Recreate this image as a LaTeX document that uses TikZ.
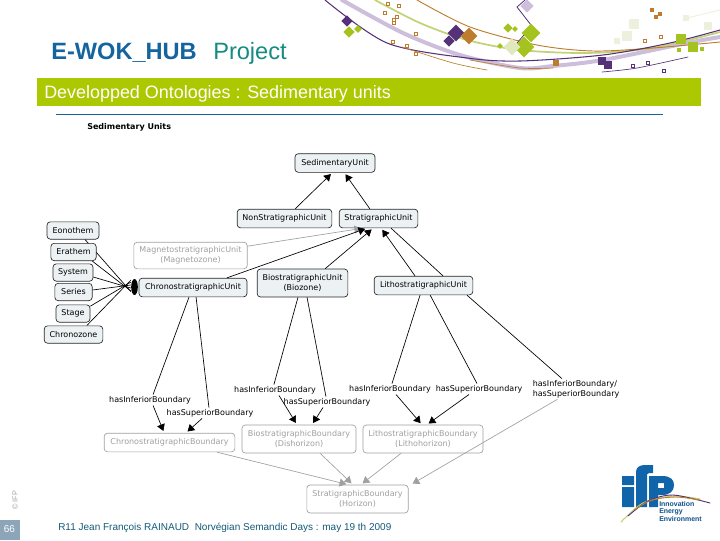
\documentclass[tikz,border=0pt]{standalone}
\usepackage{fontspec}
\setmainfont{Liberation Sans}
\newfontfamily\diafont{DejaVu Sans}
\usetikzlibrary{arrows.meta,shapes.geometric,backgrounds}
\definecolor{bannergreen}{RGB}{172,200,0}
\definecolor{titleblue}{RGB}{20,100,160}
\definecolor{titleteal}{RGB}{20,140,130}
\definecolor{footteal}{RGB}{20,90,120}
\definecolor{pageblue}{RGB}{140,165,185}
\definecolor{unitfill}{RGB}{236,241,244}
\definecolor{fadegray}{RGB}{160,160,160}
\definecolor{swpurple}{RGB}{85,50,120}
\definecolor{swlilac}{RGB}{205,190,220}
\definecolor{swolive}{RGB}{195,210,120}
\definecolor{sworange}{RGB}{190,125,45}
\definecolor{swgreen}{RGB}{165,195,30}
\definecolor{swpale}{RGB}{225,232,190}
\definecolor{swfaint}{RGB}{238,240,222}
\definecolor{logoblue}{RGB}{15,100,170}
\begin{document}
\begin{tikzpicture}[
  x=0.75pt,
  y=-0.75pt,
  unit/.style={draw=black!85, fill=unitfill, rounded corners=2.5pt, line width=0.5pt, inner sep=0pt, align=center, font=\diafont\fontsize{6}{7.3}\selectfont},
  fade/.style={unit, draw=fadegray, fill=white, text=fadegray},
  role/.style={inner sep=1pt, align=left, font=\diafont\fontsize{6}{7.3}\selectfont},
  link/.style={line width=0.5pt, black},
  isa/.style={link, -{Triangle[length=5pt,width=6pt]}, shorten >=1.5pt},
  isafade/.style={isa, draw=fadegray, -{Triangle[length=5pt,width=6pt,fill=fadegray]}},
  gem/.style={rotate=45, minimum size=#1, inner sep=0pt},
  wave/.style={line cap=round}
]
\useasboundingbox (0,0) rectangle (720,540);

% swooshes
\draw[wave, swlilac, line width=3pt] plot[smooth] coordinates {(342,0) (403,33) (460,55) (520,68) (553,66) (603,60) (687,43) (720,37)};
\draw[wave, swolive, line width=1.3pt] plot[smooth] coordinates {(375,0) (420,23) (467,40) (520,50) (587,53) (653,48) (720,32)};
\draw[wave, sworange, line width=0.7pt] plot[smooth] coordinates {(417,0) (470,27) (537,45) (593,51) (653,48) (720,42)};
\draw[wave, swpurple, line width=0.8pt] plot[smooth] coordinates {(325,0) (387,43) (467,58) (520,61) (603,55) (670,43) (720,30)};
\draw[wave, sworange, line width=0.5pt] plot[smooth] coordinates {(402,47) (453,63) (487,70)};
\draw[wave, sworange, line width=0.5pt] plot[smooth] coordinates {(470,60) (520,68) (553,68)};
\draw[wave, swpurple, line width=0.5pt] plot[smooth] coordinates {(602,72) (637,68) (688,57)};
\draw[wave, swpurple, line width=0.6pt] (525,0) -- (517,7) -- (531,25) -- (530,28) -- (517,43);
\draw[wave, swfaint, line width=0.7pt] (687,18) -- (720,10);

% diamonds
\foreach \cx/\cy/\sz/\col in {527/6/7/swlilac, 347/21/6/swpurple, 349/32/6/swgreen, 358/29/4/swgreen,
    456/33/9/swpurple, 449/41/6/swpurple, 469/36/9/sworange, 531/33/10/swgreen, 524/47/11/swgreen,
    512/47/9/swpale, 508/28/5/swgreen, 515/29/3/swgreen, 500/46/3/swgreen} {
  \node[gem=\sz pt, fill=\col] at (\cx,\cy) {};
}
\foreach \cx/\cy/\sz/\col in {556/63/4.5/sworange, 602/61/6/swpurple, 608/65/6/swpurple, 681/39/8/swgreen, 693/47/8/swgreen,
    679/50/3/swgreen, 702/49/3/swgreen, 652/10/3/sworange, 660/14/3/sworange, 656/17/3/sworange,
    634/24/7/swfaint, 627/36/7/swfaint, 617/41/5/swfaint, 708/26/6/swfaint, 686/18/4/swfaint} {
  \node[minimum size=\sz pt, inner sep=0pt, fill=\col] at (\cx,\cy) {};
}
\foreach \cx/\cy in {388/4, 399/6, 385/13, 397/17, 394/20, 394/23, 416/34, 393/42, 407/46, 416/54, 645/41, 661/37} {
  \node[minimum size=2.2pt, inner sep=0pt, draw=sworange, line width=0.4pt] at (\cx,\cy) {};
}
\foreach \cx/\cy in {633/66, 648/63, 664/71} {
  \node[minimum size=2.2pt, inner sep=0pt, draw=swpurple, line width=0.4pt] at (\cx,\cy) {};
}

% heading
\node[anchor=base west, inner sep=0pt, text=titleblue, font=\fontsize{17.7}{20}\selectfont\bfseries] (mainTitle) at (51,59) {E-WOK\_HUB};
\node[anchor=base west, inner sep=0pt, text=titleteal, font=\fontsize{17.7}{20}\selectfont] (subTitle) at (213,59) {Project};
\fill[bannergreen] (37,78) rectangle (701,106);
\node[anchor=base west, inner sep=0pt, text=white, font=\fontsize{13.45}{15}\selectfont] (bannerText) at (44,98) {Developped Ontologies : Sedimentary units};
\draw[titleblue, line width=0.6pt] (56,114) -- (663,114);
\node[anchor=base west, inner sep=0pt, font=\diafont\fontsize{6}{7}\selectfont\bfseries] (figTitle) at (87,129) {Sedimentary Units};

% upper classes
\node[unit, minimum width=60pt, minimum height=14pt] (sedU) at (335,163) {SedimentaryUnit};
\node[unit, minimum width=71pt, minimum height=14pt] (nonU) at (284.5,218.5) {NonStratigraphicUnit};
\node[unit, minimum width=59pt, minimum height=14pt] (strU) at (378.5,218.5) {StratigraphicUnit};
\node[fade, minimum width=85pt, minimum height=20pt] (magU) at (190.5,255.5) {MagnetostratigraphicUnit\\(Magnetozone)};
\node[unit, minimum width=81pt, minimum height=14pt] (chrU) at (193,287.5) {ChronostratigraphicUnit};
\node[unit, minimum width=68pt, minimum height=21pt] (bioU) at (302.5,283) {BiostratigraphicUnit\\(Biozone)};
\node[unit, minimum width=74pt, minimum height=14pt] (litU) at (423.5,285.5) {LithostratigraphicUnit};

% chrono ranks
\foreach \nam/\txt/\cx/\cy/\bw in {eonU/Eonothem/73/230.5/39, eraU/Erathem/73.5/252/34, sysU/System/73/272.5/30,
    serU/Series/73.5/292/28, staU/Stage/73/313.5/25.5, zonU/Chronozone/73.5/334.5/44} {
  \node[unit, minimum width=\bw pt, minimum height=13pt] (\nam) at (\cx,\cy) {\txt};
}
\node[ellipse, fill=black, minimum width=5pt, minimum height=12pt, inner sep=0pt] (disjoint) at (134.5,287) {};

% boundaries
\node[fade, minimum width=98pt, minimum height=14pt] (chrB) at (169.5,442.5) {ChronostratigraphicBoundary};
\node[fade, minimum width=85.5pt, minimum height=21pt] (bioB) at (299,439) {BiostratigraphicBoundary\\(Dishorizon)};
\node[fade, minimum width=90pt, minimum height=21pt] (litB) at (423,439) {LithostratigraphicBoundary\\(Lithohorizon)};
\node[fade, minimum width=76pt, minimum height=21pt] (strB) at (357.5,499) {StratigraphicBoundary\\(Horizon)};

% roles
\node[role] (infA) at (150,400) {hasInferiorBoundary};
\node[role] (supA) at (210,413) {hasSuperiorBoundary};
\node[role] (infB) at (275,390) {hasInferiorBoundary};
\node[role] (supB) at (327,402) {hasSuperiorBoundary};
\node[role] (infC) at (390,389) {hasInferiorBoundary};
\node[role] (supC) at (479,389) {hasSuperiorBoundary};
\node[role] (both) at (576,389) {hasInferiorBoundary/\\hasSuperiorBoundary};

% subclass links
\draw[isa] ([xshift=8pt]nonU.north) -- ([xshift=-2pt]sedU.south);
\draw[isa] ([xshift=-6.5pt]strU.north) -- ([xshift=7pt]sedU.south);
\draw[isafade] ([yshift=7pt]magU.east) -- ([xshift=-11.6pt]strU.south);
\draw[isa] ([xshift=25.5pt]chrU.north) -- ([xshift=-8.6pt]strU.south);
\draw[isa] ([xshift=17pt]bioU.north) -- ([xshift=-4pt]strU.south);
\draw[isa] ([xshift=-6.4pt]litU.north) -- ([xshift=2pt]strU.south);
\draw[link] ([xshift=9.4pt]strU.south) -- ([xshift=14.6pt]litU.north);
\begin{scope}[on background layer]
  \draw[link] ([xshift=9pt]eonU.south) -- ([yshift=-3.5pt]disjoint.west);
  \draw[link] ([xshift=14pt]eraU.south) -- ([yshift=-3pt]disjoint.west);
  \draw[link] ([yshift=-3.4pt]sysU.east) -- ([yshift=-0.8pt]disjoint.west);
  \draw[link] ([yshift=1.5pt]serU.east) -- ([yshift=1.5pt]disjoint.west);
  \draw[link] ([yshift=5.5pt]staU.east) -- ([yshift=3.7pt]disjoint.west);
  \draw[link] ([xshift=10pt]zonU.north) -- ([yshift=5.2pt]disjoint.west);
\end{scope}

% boundary links
\draw[link] ([xshift=-3pt]chrU.south) -- ([xshift=2.3pt]infA.north);
\draw[isa] ([xshift=2.3pt]infA.south) -- ([xshift=-4pt]chrB.north);
\draw[link] ([xshift=2.3pt]chrU.south) -- ([xshift=-0.8pt]supA.north);
\draw[isa] ([xshift=-6pt]supA.south) -- ([xshift=12.4pt]chrB.north);
\draw[link] ([xshift=-3.4pt]bioU.south) -- ([xshift=-0.8pt]infB.north);
\draw[isa] ([xshift=3pt]infB.south) -- ([xshift=-1.5pt]bioB.north);
\draw[link] ([xshift=3.4pt]bioU.south) -- ([xshift=-0.8pt]supB.north);
\draw[isa] ([xshift=-3pt]supB.south) -- ([xshift=9.8pt]bioB.north);
\draw[link] ([xshift=-2.6pt]litU.south) -- ([xshift=1.5pt]infC.north);
\draw[isa] ([xshift=4.5pt]infC.south) -- ([xshift=-0.8pt]litB.north);
\draw[link] ([xshift=5pt]litU.south) -- ([xshift=-1.5pt]supC.north);
\draw[isa] ([xshift=-7.5pt]supC.south) -- ([xshift=3pt]litB.north);
\draw[link] ([xshift=32.6pt]litU.south) -- ([xshift=-10.5pt]both.north);
\draw[isafade] ([xshift=-14pt]both.south) -- ([xshift=40pt]strB.north);
\draw[isafade] ([xshift=35.6pt]chrB.south) -- ([xshift=-7pt]strB.north);
\draw[isafade] ([xshift=15.8pt]bioB.south) -- ([xshift=-3.4pt]strB.north);
\draw[isafade] ([xshift=-16.5pt]litB.south) -- ([xshift=2.6pt]strB.north);

% footer
\fill[pageblue] (0,520) rectangle (20,540);
\node[text=white, inner sep=0pt, font=\fontsize{7.5}{9}\selectfont] (pageNo) at (9.5,529.5) {66};
\node[rotate=90, text=fadegray, inner sep=0pt, font=\fontsize{5.5}{7}\selectfont] (copyNote) at (15,500.5) {© IFP};
\node[anchor=base west, inner sep=0pt, text=footteal, font=\fontsize{7.5}{9}\selectfont] (footText) at (58,530) {R11 Jean François RAINAUD\ \ Norvégian Semandic Days : may 19 th 2009};

% logo
\fill[logoblue] (622,476) rectangle (634,485) (622,487) rectangle (634,507);
\fill[logoblue] (636,507) -- (636,472) .. controls (636,467) and (640,465) .. (645,465) -- (653,465) -- (653,473) -- (649,473) .. controls (647,473) and (647,475) .. (647,476) -- (647,507) -- cycle;
\fill[logoblue, even odd rule] (649,507) -- (649,476) -- (662,476) .. controls (671,476) and (674,480) .. (674,485) .. controls (674,491) and (670,495) .. (662,495) -- (658,495) -- (658,507) -- cycle (658,483) rectangle (664,488);
\draw[wave, swolive, line width=0.8pt] plot[smooth] coordinates {(621,522) (643,503) (673,496) (700,499)};
\draw[wave, swpurple, line width=0.7pt] plot[smooth] coordinates {(628,516) (648,501) (673,495) (710,503)};
\draw[wave, sworange, line width=0.7pt] plot[smooth] coordinates {(634,510) (652,500) (676,497) (700,500)};
\node[anchor=north west, inner sep=0pt, align=left, text=logoblue!80!black, font=\fontsize{5.2}{5.6}\selectfont\bfseries] (logoText) at (659,501) {Innovation\\Energy\\Environment};
\end{tikzpicture}
\end{document}
